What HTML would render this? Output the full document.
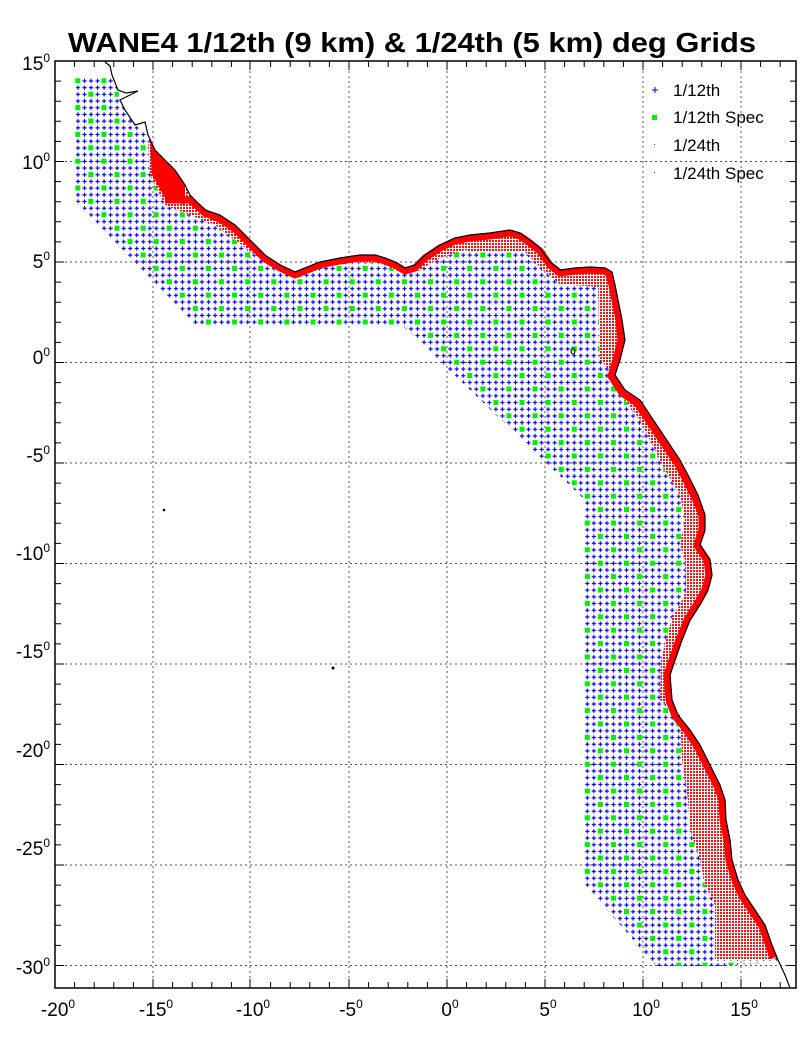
<!DOCTYPE html>
<html><head><meta charset="utf-8"><style>
html,body{margin:0;padding:0;background:#fff}
svg{display:block;font-family:"Liberation Sans",Arial,sans-serif}
</style></head><body>
<svg width="801" height="1051" viewBox="0 0 801 1051" xmlns="http://www.w3.org/2000/svg">
<defs>
<pattern id="cr" patternUnits="userSpaceOnUse" x="74.7" y="77.6" width="6.53" height="6.7">
<path d="M1.2,3.35H5.4M3.27,1.2V5.5" stroke="#0000ff" stroke-width="1.1"/>
</pattern>
<pattern id="gr" patternUnits="userSpaceOnUse" x="75.3" y="78.3" width="26.13" height="26.8">
<rect x="0" y="0" width="5" height="5" fill="#00ee00"/>
<rect x="13.07" y="13.4" width="5" height="5" fill="#00ee00"/>
</pattern>
<pattern id="pk" patternUnits="userSpaceOnUse" width="3" height="3">
<rect width="3" height="3" fill="#fff"/>
<rect width="2" height="2" fill="#ff1010"/>
</pattern>
<clipPath id="blue"><path d="M75,77 L112,77 L118,90 L120,100 L125,110 L135,125 L148,135 L155,150 L165,160 L175,170 L185,185 L190,195 L205,210 L220,215 L235,225 L250,240 L265,255 L280,265 L295,272 L305,268 L320,262 L340,258 L360,255 L375,255 L385,258 L395,262 L405,268 L415,265 L425,255 L440,245 L455,238 L470,235 L490,233 L510,230 L520,233 L530,240 L540,248 L550,262 L560,270 L575,268 L590,267 L605,268 L612,272 L615,285 L618,300 L622,320 L625,340 L620,360 L615,375 L625,390 L640,400 L650,415 L660,430 L670,445 L680,460 L688,475 L698,495 L705,515 L705,530 L700,545 L710,560 L712,575 L708,590 L700,605 L690,620 L682,640 L675,660 L670,675 L672,700 L678,715 L690,730 L700,745 L710,765 L720,785 L725,800 L726,820 L730,840 L732,860 L738,880 L745,895 L755,910 L765,925 L772,945 L778,962 L720,966 L656,966 L583,882 L583,498 L403,326 L195,326 L75,200 Z"/></clipPath>
</defs>
<text x="412" y="52" font-size="28" font-weight="bold" text-anchor="middle" textLength="688" lengthAdjust="spacingAndGlyphs">WANE4 1/12th (9 km) &amp; 1/24th (5 km) deg Grids</text>

<g stroke="#555" stroke-width="1" stroke-dasharray="2,3">
<path d="M153,61V988M250,61V988M349,61V988M447,61V988M545,61V988M643,61V988M741,61V988"/>
<path d="M55,161.5H796M55,262H796M55,362.5H796M55,463H796M55,563.5H796M55,664H796M55,764.5H796M55,865H796M55,965.5H796"/>
</g>

<g clip-path="url(#blue)">
<rect x="70" y="70" width="720" height="900" fill="url(#cr)"/>
<rect x="70" y="70" width="720" height="900" fill="url(#gr)"/>
</g>
<path fill="url(#pk)" d="M148,140 L150,175 L165,205 L190,215 L215,225 L235,240 L255,255 L280,270 L295,278 L320,268 L350,262 L380,263 L400,272 L420,270 L440,258 L465,250 L470,252 L525,252 L545,272 L560,284 L598,287 L600,360 L610,370 L625,400 L640,420 L650,440 L665,470 L680,495 L685,520 L680,545 L685,560 L686,590 L680,605 L673,615 L666,640 L661,660 L660,700 L680,715 L682,760 L688,800 L690,830 L700,860 L705,885 L715,905 L715,960 L772,960 L772,945 L765,925 L755,910 L745,895 L738,880 L732,860 L730,840 L726,820 L725,800 L720,785 L710,765 L700,745 L690,730 L678,715 L672,700 L670,675 L675,660 L682,640 L690,620 L700,605 L708,590 L712,575 L710,560 L700,545 L705,530 L705,515 L698,495 L688,475 L680,460 L670,445 L660,430 L650,415 L640,400 L625,390 L615,375 L620,360 L625,340 L622,320 L618,300 L615,285 L612,272 L605,268 L590,267 L575,268 L560,270 L550,262 L540,248 L530,240 L520,233 L510,230 L490,233 L470,235 L455,238 L440,245 L425,255 L415,265 L405,268 L395,262 L385,258 L375,255 L360,255 L340,258 L320,262 L305,268 L295,272 L280,265 L265,255 L250,240 L235,225 L220,215 L205,210 L190,195 L185,185 L175,170 L165,160 L155,150 L148,140 Z"/>
<path fill="#f00" d="M150,140 L152,175 L165,198 L185,205 L185,185 L175,170 L165,160 L155,150 Z"/>
<path fill="none" stroke="#f00" stroke-width="7" stroke-linejoin="round" d="M165,200 L190,200 L205,213 L220,219 L235,229 L250,244 L265,259 L280,268 L295,275 L305,271 L320,265 L340,261 L360,258 L375,258 L385,261 L395,265 L405,271 L415,268 L425,258 L440,248 L455,241 L470,238 L490,236 L510,233 L520,236 L530,243 L540,251 L550,265 L560,273 L575,271 L590,270 L605,271 L609,274 L612,285 L615,300 L619,320 L621,340 L616,360 L611,376 L622,393 L637,403 L647,418 L657,433 L667,448 L677,463 L685,478 L695,498 L702,515 L702,530 L697,545 L707,560 L709,575 L705,590 L697,604 L687,620 L679,640 L672,660 L667,675 L669,700 L675,716 L687,731 L697,746 L707,766 L717,786 L722,800 L723,820 L727,840 L729,860 L735,880 L742,896 L752,911 L762,926 L769,946 L773,958"/>
<path fill="none" stroke="#000" stroke-width="1.2" d="M105,62 L110,66 L112,75 L118,90 L126,93 L138,91 L120,100 L125,110 L135,125 L145,122 L148,135 L155,150 L165,160 L175,170 L185,185 L190,195 L205,210 L220,215 L235,225 L250,240 L265,255 L280,265 L295,272 L305,268 L320,262 L340,258 L360,255 L375,255 L385,258 L395,262 L405,268 L415,265 L425,255 L440,245 L455,238 L470,235 L490,233 L510,230 L520,233 L530,240 L540,248 L550,262 L560,270 L575,268 L590,267 L605,268 L612,272 L615,285 L618,300 L622,320 L625,340 L620,360 L615,375 L625,390 L640,400 L650,415 L660,430 L670,445 L680,460 L688,475 L698,495 L705,515 L705,530 L700,545 L710,560 L712,575 L708,590 L700,605 L690,620 L682,640 L675,660 L670,675 L672,700 L678,715 L690,730 L700,745 L710,765 L720,785 L725,800 L726,820 L730,840 L732,860 L738,880 L745,895 L755,910 L765,925 L772,945 L778,960 L785,975 L790,988"/>
<circle cx="164" cy="510" r="1.3" fill="#000"/>
<circle cx="333" cy="668" r="1.5" fill="#000"/>
<ellipse cx="573" cy="351" rx="2" ry="3" fill="none" stroke="#000"/>

<rect x="55" y="61" width="741" height="927" fill="none" stroke="#000" stroke-width="1.5"/>
<g stroke="#000" stroke-width="1">
<path d="M74.6,988v-6M94.2,988v-6M113.8,988v-6M133.4,988v-6M153,988v-9M172.6,988v-6M192.2,988v-6M211.8,988v-6M231.4,988v-6M250,988v-9M270.6,988v-6M290.2,988v-6M309.8,988v-6M329.4,988v-6M349,988v-9M368.6,988v-6M388.2,988v-6M407.8,988v-6M427.4,988v-6M447,988v-9M466.6,988v-6M486.2,988v-6M505.8,988v-6M525.4,988v-6M545,988v-9M564.6,988v-6M584.2,988v-6M603.8,988v-6M623.4,988v-6M643,988v-9M662.6,988v-6M682.2,988v-6M701.8,988v-6M721.4,988v-6M741,988v-9M760.6,988v-6M780.2,988v-6"/>
<path d="M74.6,61v6M94.2,61v6M113.8,61v6M133.4,61v6M153,61v9M172.6,61v6M192.2,61v6M211.8,61v6M231.4,61v6M250,61v9M270.6,61v6M290.2,61v6M309.8,61v6M329.4,61v6M349,61v9M368.6,61v6M388.2,61v6M407.8,61v6M427.4,61v6M447,61v9M466.6,61v6M486.2,61v6M505.8,61v6M525.4,61v6M545,61v9M564.6,61v6M584.2,61v6M603.8,61v6M623.4,61v6M643,61v9M662.6,61v6M682.2,61v6M701.8,61v6M721.4,61v6M741,61v9M760.6,61v6M780.2,61v6"/>
</g>
<path stroke="#000" stroke-width="1" d="M55,81.1h6M55,101.2h6M55,121.3h6M55,141.4h6M55,161.5h9M55,181.6h6M55,201.7h6M55,221.8h6M55,241.9h6M55,262h9M55,282.1h6M55,302.2h6M55,322.3h6M55,342.4h6M55,362.5h9M55,382.6h6M55,402.7h6M55,422.8h6M55,442.9h6M55,463h9M55,483.1h6M55,503.2h6M55,523.3h6M55,543.4h6M55,563.5h9M55,583.6h6M55,603.7h6M55,623.8h6M55,643.9h6M55,664h9M55,684.1h6M55,704.2h6M55,724.3h6M55,744.4h6M55,764.5h9M55,784.6h6M55,804.7h6M55,824.8h6M55,844.9h6M55,865h9M55,885.1h6M55,905.2h6M55,925.3h6M55,945.4h6M55,965.5h9
M796,81.1h-6M796,101.2h-6M796,121.3h-6M796,141.4h-6M796,161.5h-9M796,181.6h-6M796,201.7h-6M796,221.8h-6M796,241.9h-6M796,262h-9M796,282.1h-6M796,302.2h-6M796,322.3h-6M796,342.4h-6M796,362.5h-9M796,382.6h-6M796,402.7h-6M796,422.8h-6M796,442.9h-6M796,463h-9M796,483.1h-6M796,503.2h-6M796,523.3h-6M796,543.4h-6M796,563.5h-9M796,583.6h-6M796,603.7h-6M796,623.8h-6M796,643.9h-6M796,664h-9M796,684.1h-6M796,704.2h-6M796,724.3h-6M796,744.4h-6M796,764.5h-9M796,784.6h-6M796,804.7h-6M796,824.8h-6M796,844.9h-6M796,865h-9M796,885.1h-6M796,905.2h-6M796,925.3h-6M796,945.4h-6M796,965.5h-9"/>

<g font-size="19" text-anchor="end">
<text x="50" y="70">15<tspan font-size="12" dy="-8">0</tspan></text>
<text x="50" y="169">10<tspan font-size="12" dy="-8">0</tspan></text>
<text x="50" y="268">5<tspan font-size="12" dy="-8">0</tspan></text>
<text x="50" y="364">0<tspan font-size="12" dy="-8">0</tspan></text>
<text x="50" y="462">-5<tspan font-size="12" dy="-8">0</tspan></text>
<text x="50" y="560">-10<tspan font-size="12" dy="-8">0</tspan></text>
<text x="50" y="658">-15<tspan font-size="12" dy="-8">0</tspan></text>
<text x="50" y="757">-20<tspan font-size="12" dy="-8">0</tspan></text>
<text x="50" y="855">-25<tspan font-size="12" dy="-8">0</tspan></text>
<text x="50" y="974">-30<tspan font-size="12" dy="-8">0</tspan></text>
</g>
<g font-size="19" text-anchor="middle">
<text x="58" y="1016">-20<tspan font-size="12" dy="-8">0</tspan></text>
<text x="156" y="1016">-15<tspan font-size="12" dy="-8">0</tspan></text>
<text x="253" y="1016">-10<tspan font-size="12" dy="-8">0</tspan></text>
<text x="351" y="1016">-5<tspan font-size="12" dy="-8">0</tspan></text>
<text x="450" y="1016">0<tspan font-size="12" dy="-8">0</tspan></text>
<text x="548" y="1016">5<tspan font-size="12" dy="-8">0</tspan></text>
<text x="646" y="1016">10<tspan font-size="12" dy="-8">0</tspan></text>
<text x="744" y="1016">15<tspan font-size="12" dy="-8">0</tspan></text>
</g>

<path d="M652,90H658M655,87V93" stroke="#00f" stroke-width="1"/>
<rect x="652" y="115" width="5" height="5" fill="#00ee00"/>
<rect x="654" y="144" width="1" height="1" fill="#f00"/>
<rect x="654" y="172" width="1" height="1" fill="#000"/>
<g font-size="17">
<text x="673" y="96">1/12th</text>
<text x="673" y="123">1/12th Spec</text>
<text x="673" y="151">1/24th</text>
<text x="673" y="179">1/24th Spec</text>
</g>
</svg>
</body></html>
